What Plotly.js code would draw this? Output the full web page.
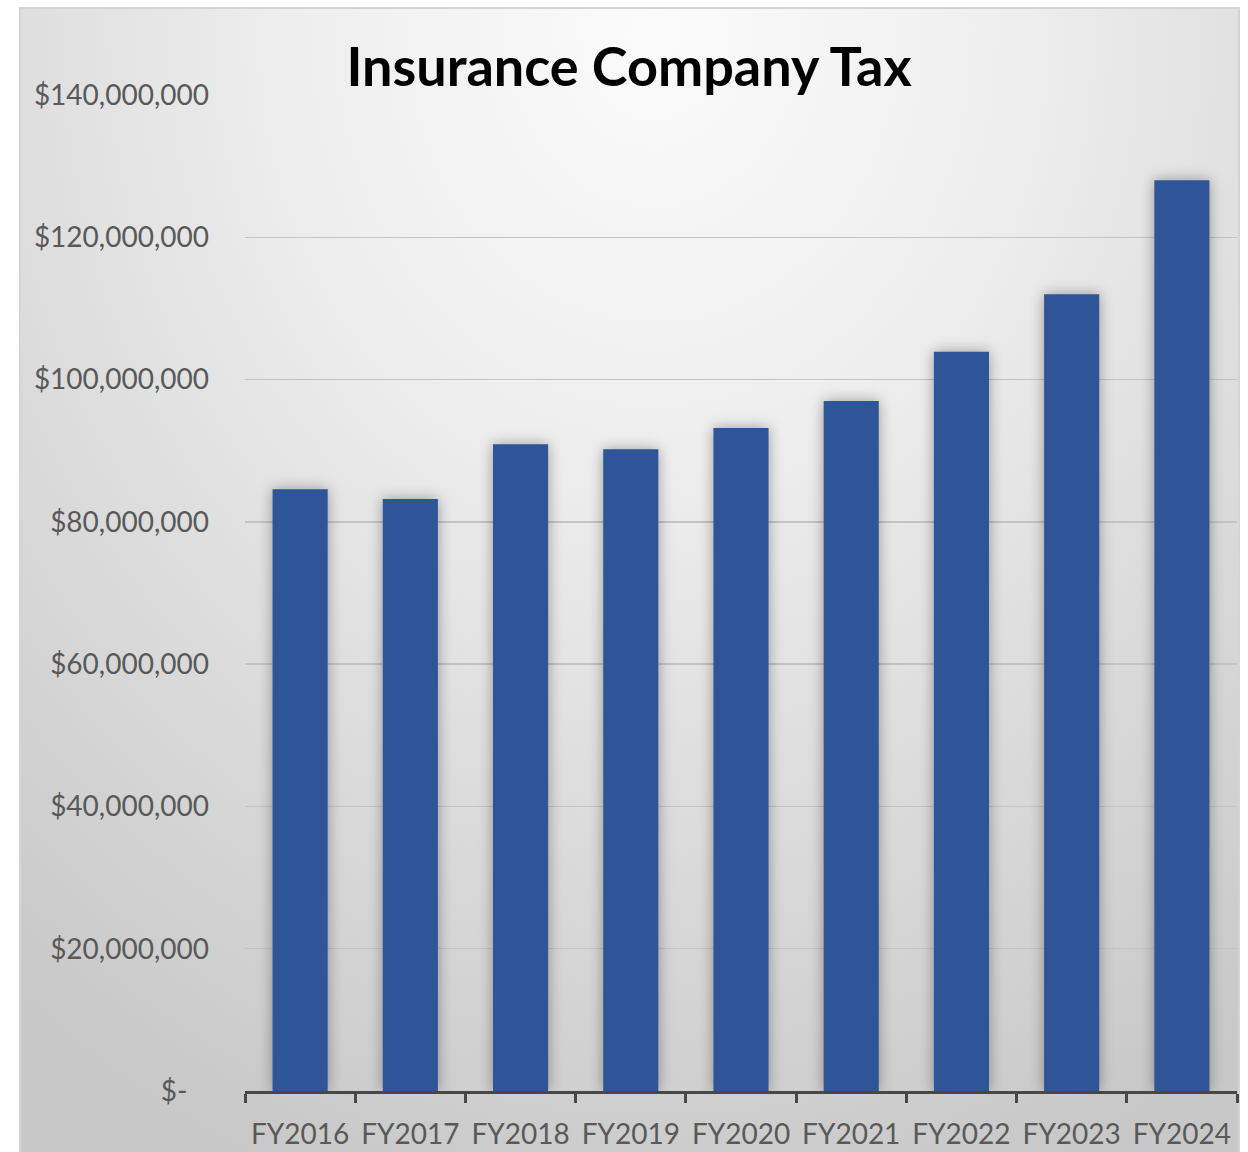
<!DOCTYPE html>
<html>
<head>
<meta charset="utf-8">
<script src="https://cdn.plot.ly/plotly-3.0.1.min.js"></script>
<style>
  html, body { margin: 0; padding: 0; background: #ffffff; width: 1248px; height: 1152px; overflow: hidden; }
  #bg { position: absolute; left: 19px; top: 7px; width: 1217px; height: 1160px;
        border: 2px solid #d4d4d4;
        background: radial-gradient(ellipse 85% 105% at 52% 2%, #fbfbfb 0%, #eeeeee 35%, #dcdcdc 65%, #c8c8c8 100%); }
  #chart { position: absolute; left: 0; top: 0; width: 1248px; height: 1152px; }
  #chart .trace.bars path { filter: drop-shadow(0px 0px 7px rgba(0,0,0,0.35)); }
</style>
</head>
<body>
<div id="bg"></div>
<div id="chart"></div>
<script>
const categories = ["FY2016","FY2017","FY2018","FY2019","FY2020","FY2021","FY2022","FY2023","FY2024"];
const taxValues = [84600000, 83200000, 90900000, 90200000, 93200000, 97000000, 103900000, 112000000, 128000000];
const yTickVals = [0, 20000000, 40000000, 60000000, 80000000, 100000000, 120000000, 140000000];
const yTickText = ["$-\u00a0\u00a0\u00a0", "$20,000,000", "$40,000,000", "$60,000,000", "$80,000,000", "$100,000,000", "$120,000,000", "$140,000,000"];

const data = [{
  type: "bar",
  x: categories,
  y: taxValues,
  marker: { color: "#2e5597" },
  hoverinfo: "x+y"
}];

const layout = {
  width: 1248,
  height: 1152,
  paper_bgcolor: "rgba(0,0,0,0)",
  plot_bgcolor: "rgba(0,0,0,0)",
  margin: { l: 245, r: 11, t: 95, b: 61 },
  showlegend: false,
  bargap: 0.5,
  font: { family: "Lato, 'Open Sans', sans-serif", color: "#595959" },
  title: {
    text: "<b>Insurance Company Tax</b>",
    font: { family: "Lato, 'Open Sans', sans-serif", size: 54, color: "#000000" },
    x: 0.504, xanchor: "center",
    y: 0.942, yanchor: "middle",
    xref: "container", yref: "container"
  },
  xaxis: {
    type: "category",
    showgrid: false,
    zeroline: false,
    showline: true,
    linecolor: "#474747",
    linewidth: 3,
    ticks: "outside",
    tickson: "boundaries",
    ticklen: 9,
    tickwidth: 3,
    tickcolor: "#474747",
    tickfont: { size: 28, color: "#595959", family: "Lato, 'Open Sans', sans-serif" },
    ticklabelstandoff: 16
  },
  yaxis: {
    range: [0, 140000000],
    tickvals: yTickVals,
    ticktext: yTickText,
    showgrid: true,
    gridcolor: "#c4c4c4",
    gridwidth: 1.5,
    zeroline: false,
    showline: false,
    ticks: "",
    tickfont: { size: 28, color: "#595959", family: "Lato, 'Open Sans', sans-serif" },
    ticklabelstandoff: 35
  }
};

Plotly.newPlot("chart", data, layout, { displayModeBar: false, staticPlot: true });
</script>
</body>
</html>
